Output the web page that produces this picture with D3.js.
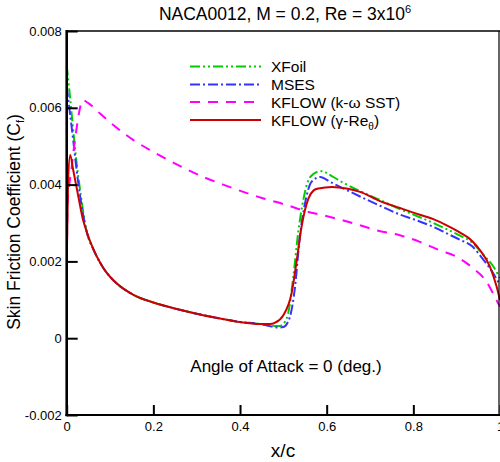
<!DOCTYPE html>
<html><head><meta charset="utf-8">
<script src="https://cdn.jsdelivr.net/npm/d3@7"></script>
<style>body{margin:0;background:#fff}svg{display:block;font-family:"Liberation Sans",Arial,sans-serif}</style>
</head><body><svg id="c" width="500" height="462"></svg>
<script>
const xTicks=[0,0.2,0.4,0.6,0.8,1];
const yTicks=[-0.002,0,0.002,0.004,0.006,0.008];
const xTickLabels=["0","0.2","0.4","0.6","0.8","1"];
const yTickLabels=["-0.002","0","0.002","0.004","0.006","0.008"];
const seriesNames=["XFoil","MSES","KFLOW (k-\u03c9 SST)","KFLOW (\u03b3-Re\u03b8)"];
const laminar=[[0.046,0.00278],[0.0614,0.00232],[0.077,0.00197],[0.0845,0.00183],[0.10,0.00160],[0.115,0.00143],[0.154,0.00113],[0.200,0.00093],[0.254,0.00076],[0.315,0.00060],[0.360,0.00050],[0.400,0.00042],[0.446,0.00037]];
const xfoil=[[0,0.0071],[0.0077,0.00628],[0.015,0.00542],[0.023,0.00455],[0.031,0.00385]].concat(laminar).concat([[0.47,0.00033],[0.492,0.00032],[0.505,0.00045],[0.511,0.00064],[0.523,0.00160],[0.534,0.00273],[0.546,0.00360],[0.558,0.00412],[0.57,0.00428],[0.581,0.00434],[0.592,0.00435],[0.60,0.00430],[0.638,0.00405],[0.677,0.00383],[0.723,0.00360],[0.769,0.00336],[0.8,0.00322],[0.846,0.00300],[0.877,0.00284],[0.908,0.00267],[0.935,0.0025],[0.961,0.00218],[0.985,0.00186],[1.0,0.00156]]);
const mses=[[0,0.00654],[0.0077,0.00585],[0.015,0.00516],[0.023,0.00437],[0.031,0.0037]].concat(laminar).concat([[0.47,0.00031],[0.49,0.00028],[0.500,0.00029],[0.515,0.00055],[0.527,0.00134],[0.538,0.00264],[0.550,0.00351],[0.565,0.00407],[0.585,0.00420],[0.608,0.00407],[0.646,0.00386],[0.677,0.00369],[0.723,0.00345],[0.769,0.00322],[0.8,0.0031],[0.846,0.0029],[0.877,0.00273],[0.908,0.00256],[0.935,0.0024],[0.961,0.00205],[0.985,0.00168],[1.0,0.00138]]);
const sst=[[0,0.0016],[0.002,0.0035],[0.006,0.0040],[0.011,0.0044],[0.016,0.0049],[0.022,0.0054],[0.029,0.0059],[0.037,0.0062],[0.05,0.00612],[0.077,0.00585],[0.1075,0.00555],[0.154,0.00516],[0.192,0.00490],[0.231,0.00466],[0.273,0.00442],[0.315,0.00420],[0.361,0.00400],[0.4075,0.00381],[0.454,0.00364],[0.504,0.00348],[0.554,0.00330],[0.592,0.00320],[0.669,0.00297],[0.715,0.00281],[0.769,0.00268],[0.815,0.00251],[0.861,0.00229],[0.900,0.00212],[0.938,0.00182],[0.969,0.00147],[0.992,0.00099],[1.0,0.00082]];
const gammaRe=[[0,0.0019],[0.003,0.0040],[0.008,0.00477],[0.015,0.00438],[0.027,0.00368],[0.038,0.00307]].concat(laminar).concat([[0.469,0.00037],[0.48,0.00040],[0.50,0.00060],[0.519,0.00117],[0.531,0.00203],[0.542,0.00290],[0.558,0.00364],[0.570,0.00385],[0.581,0.00390],[0.612,0.00394],[0.646,0.00390],[0.677,0.00381],[0.723,0.00357],[0.769,0.00339],[0.800,0.00327],[0.846,0.00310],[0.877,0.00294],[0.908,0.00275],[0.935,0.00254],[0.954,0.00229],[0.977,0.00186],[0.992,0.00135],[1.0,0.00099]]);

const svg=d3.select("#c");
const L=66.7,R=500,T=31,B=415;
const x=d3.scaleLinear().domain([0,1]).range([L,R]);
const y=d3.scaleLinear().domain([-0.002,0.008]).range([B,T]);

const styles=[
 {data:xfoil,color:"#00cc00",dash:"10,3,2,3,2,3"},
 {data:mses,color:"#3333ff",dash:"10,3,2,3"},
 {data:sst,color:"#ff00ff",dash:"10,8"},
 {data:gammaRe,color:"#cc0000",dash:null}
];
const line=d3.line().x(d=>x(d[0])).y(d=>y(d[1])).curve(d3.curveMonotoneX);
svg.append("defs").append("clipPath").attr("id","cp").append("rect").attr("x",L).attr("y",T).attr("width",R-L).attr("height",B-T);
const g=svg.append("g").attr("clip-path","url(#cp)");
styles.forEach(s=>{
 g.append("path").attr("d",line(s.data)).attr("fill","none").attr("stroke",s.color).attr("stroke-width",2).attr("stroke-dasharray",s.dash);
});

// frame
svg.append("line").attr("x1",L).attr("x2",R).attr("y1",T).attr("y2",T).attr("stroke","#000").attr("stroke-width",1.6);
svg.append("line").attr("x1",R-1).attr("x2",R-1).attr("y1",T).attr("y2",B).attr("stroke","#000").attr("stroke-width",1.2);
// axes
const xa=d3.axisBottom(x).tickValues(xTicks).tickSize(-10).tickPadding(6).tickFormat((d,i)=>xTickLabels[i]);
const ya=d3.axisLeft(y).tickValues(yTicks).tickSize(-11).tickPadding(6).tickFormat((d,i)=>yTickLabels[i]);
const gx=svg.append("g").attr("transform",`translate(0,${B})`).call(xa);
const gy=svg.append("g").attr("transform",`translate(${L},0)`).call(ya);
[gx,gy].forEach(a=>{
 a.select(".domain").remove();
 a.selectAll(".tick line").attr("stroke","#000").attr("stroke-width",2);
 a.selectAll(".tick text").attr("font-size",13).attr("fill","#000").attr("font-family","'Liberation Sans',Arial,sans-serif");
});
gx.selectAll(".tick text").attr("dy","0.75em");
gy.selectAll(".tick text").attr("x",-5);
svg.append("line").attr("x1",L).attr("x2",L).attr("y1",T-1).attr("y2",B+1.2).attr("stroke","#000").attr("stroke-width",2.6);
svg.append("line").attr("x1",L-1.3).attr("x2",R).attr("y1",B).attr("y2",B).attr("stroke","#000").attr("stroke-width",2.2);

// title
const t=svg.append("text").attr("x",285).attr("y",20).attr("text-anchor","middle").attr("font-size",17.5).text("NACA0012, M = 0.2, Re = 3x10");
t.append("tspan").attr("font-size",11).attr("dy",-7).text("6");
// x label
svg.append("text").attr("x",283).attr("y",457).attr("text-anchor","middle").attr("font-size",19).text("x/c");
// y label
const yl=svg.append("text").attr("transform","translate(20,222) rotate(-90)").attr("text-anchor","middle").attr("font-size",17.5).text("Skin Friction Coefficient (C");
yl.append("tspan").attr("font-size",11).attr("dy",4).text("f");
yl.append("tspan").attr("dy",-4).text(")");
// annotation
svg.append("text").attr("x",286).attr("y",372).attr("text-anchor","middle").attr("font-size",17).text("Angle of Attack = 0 (deg.)");

// legend
const legY=[66.5,84.5,102,120];
styles.forEach((s,i)=>{
 svg.append("line").attr("x1",190).attr("x2",261).attr("y1",legY[i]).attr("y2",legY[i]).attr("stroke",s.color).attr("stroke-width",2).attr("stroke-dasharray",s.dash);
});
const lt=[0,1,2].map(i=>svg.append("text").attr("x",271).attr("y",legY[i]+5.5).attr("font-size",15.5).text(seriesNames[i]));
const l4=svg.append("text").attr("x",271).attr("y",legY[3]+5.5).attr("font-size",15.5).text("KFLOW (\u03b3-Re");
l4.append("tspan").attr("font-size",10).attr("dy",4).text("\u03b8");
l4.append("tspan").attr("dy",-4).text(")");
</script></body></html>
